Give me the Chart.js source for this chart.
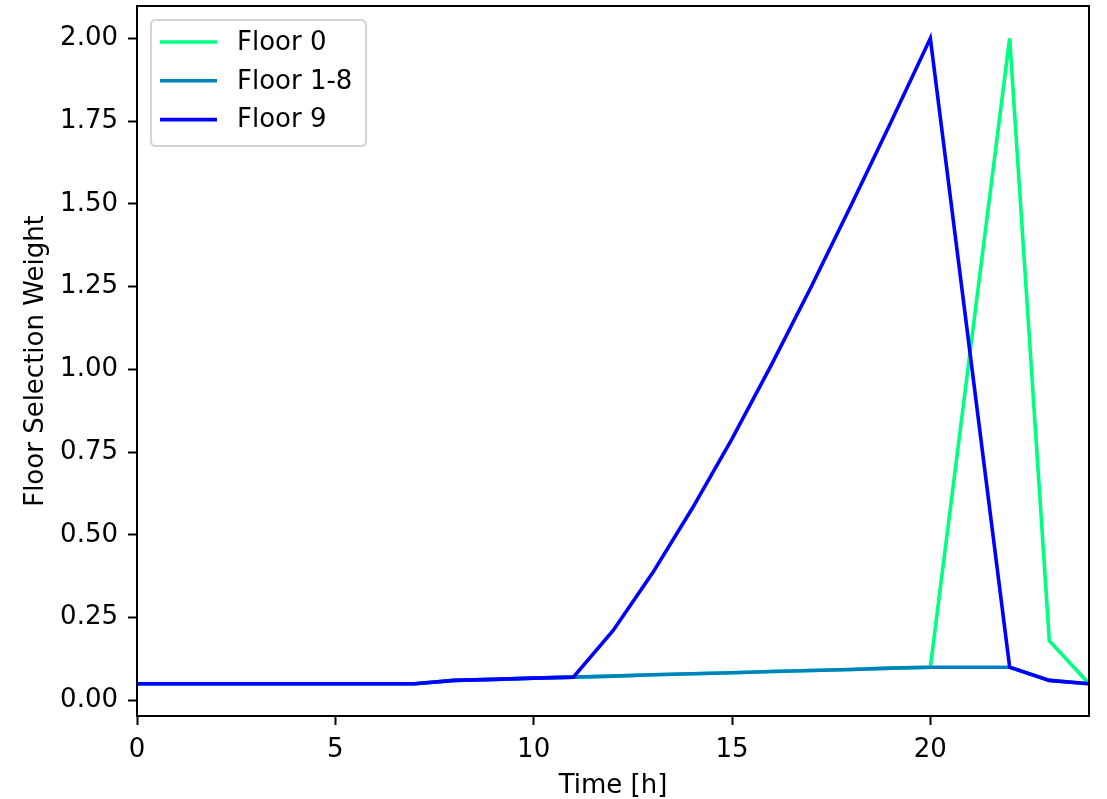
<!DOCTYPE html>
<html>
<head>
<meta charset="utf-8">
<script src="https://cdn.jsdelivr.net/npm/chart.js@4/dist/chart.umd.min.js"></script>
<style>
html,body{margin:0;padding:0;background:#fff;}
#wrap{width:1107px;height:799px;position:relative;}
</style>
</head>
<body>
<div id="wrap"><canvas id="c" width="1107" height="799"></canvas></div>
<script>
const hours = [0,1,2,3,4,5,6,7,8,9,10,11,12,13,14,15,16,17,18,19,20,21,22,23,24];
const floor0 = [0.05,0.05,0.05,0.05,0.05,0.05,0.05,0.05,0.06,0.063,0.067,0.07,0.073,0.077,0.08,0.083,0.087,0.09,0.093,0.097,0.1,1.05,2.0,0.18,0.05];
const floor1to8 = [0.05,0.05,0.05,0.05,0.05,0.05,0.05,0.05,0.06,0.063,0.067,0.07,0.073,0.077,0.08,0.083,0.087,0.09,0.093,0.097,0.1,0.1,0.1,0.06,0.05];
const floor9 = [0.05,0.05,0.05,0.05,0.05,0.05,0.05,0.05,0.06,0.063,0.067,0.07,0.21,0.385,0.58,0.79,1.015,1.25,1.495,1.745,2.0,1.05,0.1,0.06,0.05];
const seriesNames = ["Floor 0","Floor 1-8","Floor 9"];
const yTicks = [0.00,0.25,0.50,0.75,1.00,1.25,1.50,1.75,2.00];
const xTicks = [0,5,10,15,20];

const colors = ["#00ff80","#0080bf","#0000ff"];
const FONT = "'DejaVu Sans', sans-serif";
const FS = 26;
const pts = arr => hours.map((h,i)=>({x:h,y:arr[i]}));

const frame = {
  id:'frame',
  afterDatasetsDraw(chart){
    const {ctx, chartArea:a} = chart;
    ctx.save();
    ctx.strokeStyle = '#000';
    ctx.lineWidth = 2;
    ctx.strokeRect(a.left, a.top, a.right-a.left, a.bottom-a.top);
    ctx.restore();
  }
};

const legendBox = {
  id:'legendBox',
  afterDraw(chart){
    const {ctx, chartArea:a} = chart;
    const x0 = a.left + 14, y0 = a.top + 14, w = 215, h = 126;
    ctx.save();
    ctx.beginPath();
    const r = 5;
    ctx.moveTo(x0+r,y0);
    ctx.lineTo(x0+w-r,y0); ctx.quadraticCurveTo(x0+w,y0,x0+w,y0+r);
    ctx.lineTo(x0+w,y0+h-r); ctx.quadraticCurveTo(x0+w,y0+h,x0+w-r,y0+h);
    ctx.lineTo(x0+r,y0+h); ctx.quadraticCurveTo(x0,y0+h,x0,y0+h-r);
    ctx.lineTo(x0,y0+r); ctx.quadraticCurveTo(x0,y0,x0+r,y0);
    ctx.closePath();
    ctx.fillStyle = 'rgba(255,255,255,0.8)';
    ctx.fill();
    ctx.strokeStyle = '#d4d4d4';
    ctx.lineWidth = 2;
    ctx.stroke();
    ctx.font = FS + 'px ' + FONT;
    ctx.textBaseline = 'middle';
    ctx.fillStyle = '#000';
    seriesNames.forEach((name,i)=>{
      const yy = y0 + 22 + i*38.8;
      ctx.strokeStyle = colors[i];
      ctx.lineWidth = 3.6;
      ctx.beginPath();
      ctx.moveTo(x0+9, yy); ctx.lineTo(x0+66, yy); ctx.stroke();
      ctx.fillText(name, x0+86, yy + 1);
    });
    ctx.restore();
  }
};

new Chart(document.getElementById('c'), {
  type:'line',
  data:{
    datasets:[
      {label:seriesNames[0], data:pts(floor0), borderColor:colors[0], order:3},
      {label:seriesNames[1], data:pts(floor1to8), borderColor:colors[1], order:2},
      {label:seriesNames[2], data:pts(floor9), borderColor:colors[2], order:1}
    ]
  },
  options:{
    responsive:false,
    animation:false,
    layout:{padding:{top:6,right:18,left:0,bottom:0}},
    elements:{
      line:{borderWidth:3.6, tension:0, fill:false, borderJoinStyle:'miter', borderCapStyle:'butt'},
      point:{radius:0, hoverRadius:0}
    },
    plugins:{legend:{display:false}, tooltip:{enabled:false}},
    scales:{
      x:{
        type:'linear', min:0, max:24,
        afterFit(s){ s.height = 83; s.paddingLeft = 0; s.paddingRight = 0; },
        afterBuildTicks(s){ s.ticks = xTicks.map(v=>({value:v})); },
        grid:{drawOnChartArea:false, color:'#000', tickLength:9, tickWidth:2},
        border:{display:true, color:'#000', width:2},
        ticks:{color:'#000', font:{family:FONT, size:FS}, padding:10, maxRotation:0,
               callback:v=>String(v)},
        title:{display:true, text:'Time [h]', color:'#000', font:{family:FONT, size:FS}, padding:{top:0,bottom:-3}}
      },
      y:{
        type:'linear', min:-0.0475, max:2.0975,
        afterFit(s){ s.width = 137; s.paddingTop = 0; s.paddingBottom = 0; },
        afterBuildTicks(s){ s.ticks = yTicks.map(v=>({value:v})); },
        grid:{drawOnChartArea:false, color:'#000', tickLength:9, tickWidth:2},
        border:{display:true, color:'#000', width:2},
        ticks:{color:'#000', font:{family:FONT, size:FS}, padding:10,
               callback:v=>Number(v).toFixed(2)},
        title:{display:true, text:'Floor Selection Weight', color:'#000', font:{family:FONT, size:FS}, padding:{top:21,bottom:0}}
      }
    }
  },
  plugins:[frame, legendBox]
});
</script>
</body>
</html>
